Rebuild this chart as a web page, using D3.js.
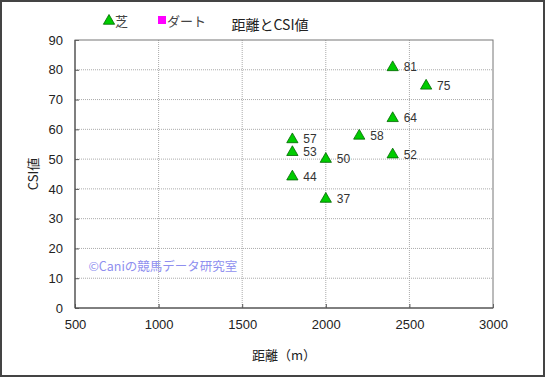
<!DOCTYPE html>
<html>
<head>
<meta charset="utf-8">
<script src="https://cdn.jsdelivr.net/npm/d3@7"></script>
<style>
  body { margin: 0; background: #fff; }
</style>
</head>
<body>
<div id="chart"></div>
<script>
// 芝 series: distance (m) and CSI value
const turfDistance = [2400, 2600, 2400, 2200, 1800, 1800, 2000, 2400, 1800, 2000];
const turfCsi = [80.8, 74.6, 63.7, 57.8, 56.6, 52.3, 50.0, 51.5, 44.1, 36.6];
const turfLabels = ['81', '75', '64', '58', '57', '53', '50', '52', '44', '37'];
const xTicks = [500, 1000, 1500, 2000, 2500, 3000];
const yTicks = [0, 10, 20, 30, 40, 50, 60, 70, 80, 90];

const numFont = '"Liberation Sans", Arial, sans-serif';
const jpFont = '"Noto Sans CJK JP", sans-serif';

const totalWidth = 545;
const totalHeight = 377;
const margin = {top: 40, right: 52, bottom: 69, left: 75};
const width = totalWidth - margin.left - margin.right;
const height = totalHeight - margin.top - margin.bottom;

let svg = d3.select('#chart').append('svg')
    .attr('width', totalWidth)
    .attr('height', totalHeight)
    .style('display', 'block');

// outer frame
svg.append('rect')
    .attr('x', 1).attr('y', 1)
    .attr('width', totalWidth - 2).attr('height', totalHeight - 2)
    .attr('fill', '#fff')
    .attr('stroke', '#444')
    .attr('stroke-width', 2);

let x = d3.scaleLinear().domain([500, 3000]).range([0, width]);
let y = d3.scaleLinear().domain([0, 90]).range([height, 0]);

let g = svg.append('g')
    .attr('transform', 'translate(' + margin.left + ',' + margin.top + ')');

// grid
g.selectAll('.hgrid').data(yTicks.slice(1, -1)).enter().append('line')
    .attr('x1', 0).attr('x2', width)
    .attr('y1', function(d) { return y(d); })
    .attr('y2', function(d) { return y(d); })
    .attr('stroke', '#aaa')
    .attr('stroke-dasharray', '1,1');
g.selectAll('.vgrid').data(xTicks.slice(1, -1)).enter().append('line')
    .attr('y1', 0).attr('y2', height)
    .attr('x1', function(d) { return x(d); })
    .attr('x2', function(d) { return x(d); })
    .attr('stroke', '#aaa')
    .attr('stroke-dasharray', '1,1');

// axes (ticks inside)
let axisLeft = g.append('g')
    .call(d3.axisLeft(y).tickValues(yTicks).tickSize(-4).tickPadding(12));
let axisBottom = g.append('g')
    .attr('transform', 'translate(0,' + height + ')')
    .call(d3.axisBottom(x).tickValues(xTicks).tickFormat(d3.format('d'))
      .tickSize(-4).tickPadding(12));
[axisLeft, axisBottom].forEach(function(a) {
  a.attr('font-family', numFont).attr('font-size', 13);
  a.select('.domain').remove();
  a.selectAll('line').attr('stroke', '#555');
  a.selectAll('text').attr('fill', '#222');
});

// plot frame
g.append('rect')
    .attr('width', width).attr('height', height)
    .attr('fill', 'none')
    .attr('stroke', '#777');
g.append('path')
    .attr('d', 'M0,0V' + height + 'H' + width)
    .attr('fill', 'none')
    .attr('stroke', '#444');

// watermark
g.append('text')
    .attr('x', x(580)).attr('y', y(12.5))
    .attr('fill', '#8f8fef')
    .attr('font-size', 12.5)
    .attr('font-family', jpFont)
    .text('©Caniの競馬データ研究室');

// points
let data = turfDistance.map(function(d, i) {
  return {dist: d, csi: turfCsi[i], label: turfLabels[i]};
});
let tri = d3.symbol().type(d3.symbolTriangle).size(55);
g.selectAll('.turf-point').data(data).enter().append('path')
    .attr('class', 'turf-point')
    .attr('d', tri)
    .attr('transform', function(d) {
      return 'translate(' + x(d.dist) + ',' + y(d.csi) + ')';
    })
    .attr('fill', '#00cc00')
    .attr('stroke', '#006600')
    .attr('stroke-width', 0.8);
g.selectAll('.turf-label').data(data).enter().append('text')
    .attr('x', function(d) { return x(d.dist) + 11; })
    .attr('y', function(d) { return y(d.csi) + 4; })
    .attr('fill', '#333')
    .attr('font-size', 12)
    .attr('font-family', numFont)
    .text(function(d) { return d.label; });

// titles
svg.append('text')
    .attr('x', 270).attr('y', 30)
    .attr('text-anchor', 'middle')
    .attr('fill', '#222')
    .attr('font-size', 14)
    .attr('font-family', jpFont)
    .text('距離とCSI値');
svg.append('text')
    .attr('transform', 'translate(38,' + (margin.top + height / 2) + ') rotate(-90)')
    .attr('text-anchor', 'middle')
    .attr('fill', '#222')
    .attr('font-size', 13)
    .attr('font-family', jpFont)
    .text('CSI値');
svg.append('text')
    .attr('x', margin.left + width / 2).attr('y', 360)
    .attr('text-anchor', 'middle')
    .attr('fill', '#222')
    .attr('font-size', 13)
    .attr('font-family', jpFont)
    .text('距離（m）');

// legend
let legend = svg.append('g').attr('transform', 'translate(104,21)');
legend.append('path')
    .attr('d', tri)
    .attr('transform', 'translate(5,0)')
    .attr('fill', '#00cc00')
    .attr('stroke', '#006600')
    .attr('stroke-width', 0.8);
legend.append('text')
    .attr('x', 11).attr('y', 5)
    .attr('fill', '#444')
    .attr('font-size', 13)
    .attr('font-family', jpFont)
    .text('芝');
legend.append('rect')
    .attr('x', 54).attr('y', -5)
    .attr('width', 8).attr('height', 8)
    .attr('fill', '#ff00ff');
legend.append('text')
    .attr('x', 63).attr('y', 5)
    .attr('fill', '#444')
    .attr('font-size', 13)
    .attr('font-family', jpFont)
    .text('ダート');
</script>
</body>
</html>
